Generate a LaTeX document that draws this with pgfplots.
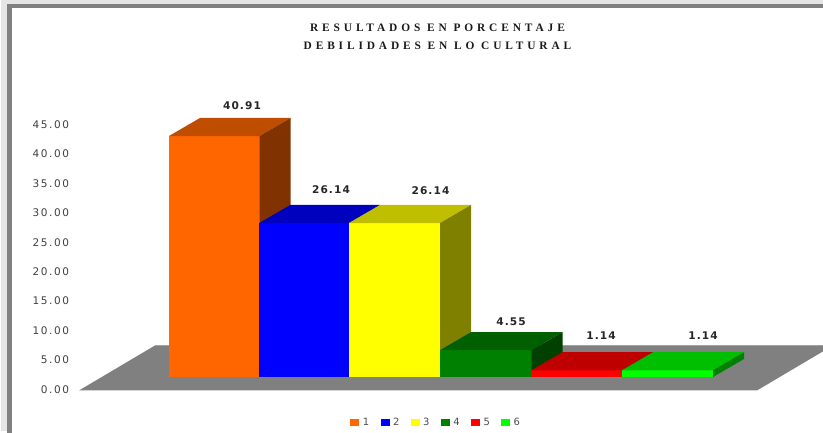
\documentclass[border=0pt]{standalone}
\usepackage{fontspec}
\usepackage{pgfplots}
\pgfplotsset{compat=1.18}
\newfontfamily\titlef[LetterSpace=34]{Liberation Serif}
\newfontfamily\tickf[LetterSpace=15]{DejaVu Sans}
\newfontfamily\valf[LetterSpace=10]{DejaVu Sans}
\newfontfamily\legf{DejaVu Sans}
\definecolor{oF}{HTML}{FF6600}\definecolor{oT}{HTML}{BF4D00}\definecolor{oS}{HTML}{803300}
\definecolor{bF}{HTML}{0000FF}\definecolor{bT}{HTML}{0000BF}\definecolor{bS}{HTML}{000080}
\definecolor{yF}{HTML}{FFFF00}\definecolor{yT}{HTML}{BFBF00}\definecolor{yS}{HTML}{808000}
\definecolor{gF}{HTML}{008000}\definecolor{gT}{HTML}{006000}\definecolor{gS}{HTML}{004000}
\definecolor{rF}{HTML}{FF0000}\definecolor{rT}{HTML}{BF0000}\definecolor{rS}{HTML}{800000}
\definecolor{lF}{HTML}{00FF00}\definecolor{lT}{HTML}{00BF00}\definecolor{lS}{HTML}{008000}
% value axis: 5.89 px per unit; bars stand 2.21 units above the floor's front edge
\newcommand\face[2]{\addplot[fill=#1,draw=none,forget plot] table[row sep=\\,
   x expr=\thisrow{x}+31*\thisrow{d}, y expr=\thisrow{y}+2.21+3.06*\thisrow{d}] {x y d\\ #2} --cycle;}
\newcommand\threedbar[6]{%
  \face{#4}{#1 0 0\\ #2 0 0\\ #2 #3 0\\ #1 #3 0\\}
  \face{#5}{#1 #3 0\\ #2 #3 0\\ #2 #3 1\\ #1 #3 1\\}
  \face{#6}{#2 0 0\\ #2 0 1\\ #2 #3 1\\ #2 #3 0\\}}
\pgfplotsset{swatch/.style={legend image code/.code={\fill[#1,draw=none] (0pt,-3.5pt) rectangle (9pt,3.5pt);}}}
\begin{document}
\begin{tikzpicture}
\useasboundingbox (0,0) rectangle (823pt,433pt);
\begin{axis}[
  scale only axis, width=823pt, height=433pt,
  xmin=0, xmax=823, ymin=-7.3, ymax=66.21,
  hide x axis,
  axis y line*=left, y axis line style={draw=none},
  major tick length=0pt,
  ytick={0,5,...,45},
  y tick label style={anchor=east, xshift=72.5pt, yshift=0.5pt, text=black!75, font=\tickf\fontsize{10.5}{11}\selectfont,
     /pgf/number format/fixed, /pgf/number format/fixed zerofill, /pgf/number format/precision=2,
     /pgf/number format/assume math mode=true},
  legend columns=6,
  legend style={draw=none, fill=none, at={(axis cs:437,-5.6)}, anchor=center,
     font=\legf\fontsize{10}{10}\selectfont, text=black!70,
     /tikz/every even column/.append style={column sep=7.8pt},
     inner sep=0pt, outer sep=0pt, row sep=0pt,
     nodes={inner xsep=3.5pt, inner ysep=0pt}},
  legend cell align=left,
]
% window frame
\fill[black!10] (axis cs:1,-6.96) rectangle (axis cs:7,66.21);
\fill[black!10] (axis cs:1,65.53) rectangle (axis cs:823,66.21);
\fill[black!50] (axis cs:7,-7.3) rectangle (axis cs:12,65.53);
\fill[black!50] (axis cs:7,64.85) rectangle (axis cs:823,65.53);
% floor
\addplot[fill=black!50,draw=none,forget plot] table[row sep=\\] {x y\\ 79 -0.08\\ 757 -0.08\\ 833 7.56\\ 155 7.56\\} --cycle;
\addplot[draw=black!37,line width=1pt,forget plot] table[row sep=\\] {x y\\ 155 7.6\\ 833 7.6\\};
% bars
\threedbar{169}{259.5}{40.91}{oF}{oT}{oS}
\threedbar{259.3}{349}{26.14}{bF}{bT}{bS}
\threedbar{349}{440}{26.14}{yF}{yT}{yS}
\threedbar{440}{531.5}{4.55}{gF}{gT}{gS}
\threedbar{531.3}{622}{1.14}{rF}{rT}{rS}
\threedbar{622}{713}{1.14}{lF}{lT}{lS}
% value labels
\addplot[only marks, mark=none, forget plot,
  point meta=\thisrow{y},
  nodes near coords, nodes near coords align={center},
  every node near coord/.append style={text=black!85, font=\valf\bfseries\fontsize{10.6}{11}\selectfont,
     /pgf/number format/fixed, /pgf/number format/fixed zerofill, /pgf/number format/precision=2,
     /pgf/number format/assume math mode=true}]
  table[row sep=\\, x=x, y expr=\thisrow{y}+\thisrow{o}] {x y o\\ 242 40.91 7.4\\ 331 26.14 7.9\\ 430.5 26.14 7.7\\ 511 4.55 7.1\\ 601 1.14 8.1\\ 703 1.14 8.1\\};
% titles
\node[font=\titlef\bfseries\fontsize{11.4}{12}\selectfont, text=black!90] at (axis cs:437.5,61.5) {RESULTADOS EN PORCENTAJE};
\node[font=\titlef\bfseries\fontsize{11.4}{12}\selectfont, text=black!90] at (axis cs:437.5,58.45) {DEBILIDADES EN LO CULTURAL};
% legend
\addlegendimage{swatch=oF}\addlegendentry{1}
\addlegendimage{swatch=bF}\addlegendentry{2}
\addlegendimage{swatch=yF}\addlegendentry{3}
\addlegendimage{swatch=gF}\addlegendentry{4}
\addlegendimage{swatch=rF}\addlegendentry{5}
\addlegendimage{swatch=lF}\addlegendentry{6}
\end{axis}
\end{tikzpicture}
\end{document}
